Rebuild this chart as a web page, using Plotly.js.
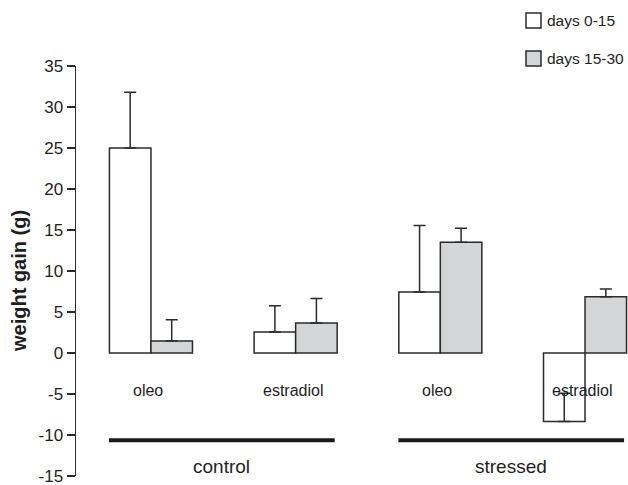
<!DOCTYPE html>
<html>
<head>
<meta charset="utf-8">
<script src="https://cdn.plot.ly/plotly-3.0.1.min.js"></script>
<style>
  html, body { margin: 0; padding: 0; background: #ffffff; }
  #chart { width: 628px; height: 485px; }
</style>
</head>
<body>
<div id="chart"></div>
<script>
// ---- data ----
const categories = ["control|oleo", "control|estradiol", "stressed|oleo", "stressed|estradiol"];
const treatmentLabels = ["oleo", "estradiol", "oleo", "estradiol"];
const groupLabels = ["control", "stressed"];
const groupFirst = [0, 2];   // index of first category in each group
const groupLast = [1, 3];    // index of last category in each group
const seriesNames = ["days 0-15", "days 15-30"];
const days0to15 = [25.0, 2.55, 7.45, -8.35];
const days0to15Err = [6.8, 3.2, 8.1, 3.45];
const days15to30 = [1.45, 3.65, 13.5, 6.85];
const days15to30Err = [2.6, 3.0, 1.7, 0.95];
const yTickVals = [-15, -10, -5, 0, 5, 10, 15, 20, 25, 30, 35];
const yTickText = ["-15", "-10", "-5", "0", "5", "10", "15", "20", "25", "30", "35"];
const yTitle = "weight gain (g)";

// ---- style ----
const FONT = "Liberation Sans, Arial, Helvetica, sans-serif";
const INK = "#2b2b2b";
const TEXT = "#1e1e1e";
const FILLS = ["#ffffff", "#d4d5d7"];
const W = 628, H = 485, ML = 76, MR = 0, MT = 66, MB = 9;
const PW = W - ML - MR, PH = H - MT - MB;
const px2x = (px) => (px - ML) / PW;
const py2y = (py) => (H - MB - py) / PH;

function barTrace(name, vals, errs, fill) {
  return {
    type: "bar",
    name: name,
    x: categories,
    y: vals,
    marker: { color: fill, line: { color: INK, width: 1.5 } },
    error_y: {
      type: "data",
      symmetric: false,
      array: errs,
      arrayminus: errs.map(() => 0),
      color: INK,
      thickness: 1.5,
      width: 6
    },
    hoverinfo: "skip",
    showlegend: false
  };
}

const data = [
  barTrace(seriesNames[0], days0to15, days0to15Err, FILLS[0]),
  barTrace(seriesNames[1], days15to30, days15to30Err, FILLS[1])
];

const annotations = [];
const shapes = [];
treatmentLabels.forEach((t, i) => {
  annotations.push({
    x: categories[i], y: -4.57, xref: "x", yref: "y",
    text: t, showarrow: false, xshift: -3,
    font: { family: FONT, size: 16, color: TEXT },
    xanchor: "center", yanchor: "middle"
  });
});
groupLabels.forEach((g, k) => {
  const mid = (groupFirst[k] + groupLast[k]) / 2;
  annotations.push({
    x: mid, y: -13.85, xref: "x", yref: "y",
    text: g, showarrow: false, xshift: -2,
    font: { family: FONT, size: 19, color: TEXT },
    xanchor: "center", yanchor: "middle"
  });
  shapes.push({
    type: "line", xref: "x", yref: "y",
    x0: groupFirst[k] - 0.29, x1: groupLast[k] + 0.27,
    y0: -10.63, y1: -10.63,
    line: { color: "#1a1a1a", width: 4 }
  });
});

// y-axis title
annotations.push({
  x: px2x(19), y: py2y(281), xref: "paper", yref: "paper",
  text: "<b>" + yTitle + "</b>", textangle: -90, showarrow: false,
  font: { family: FONT, size: 20, color: TEXT },
  xanchor: "center", yanchor: "middle"
});

// legend (drawn in the chart's top-right corner)
seriesNames.forEach((name, k) => {
  const top = 13 + k * 38;
  shapes.push({
    type: "rect", xref: "paper", yref: "paper",
    x0: px2x(526), x1: px2x(541), y0: py2y(top), y1: py2y(top + 15),
    fillcolor: FILLS[k], line: { color: INK, width: 1.5 }
  });
  annotations.push({
    x: px2x(546), y: py2y(top + 7.5), xref: "paper", yref: "paper",
    text: name, showarrow: false, borderpad: 0,
    font: { family: FONT, size: 15.5, color: TEXT },
    xanchor: "left", yanchor: "middle"
  });
});

const layout = {
  width: W, height: H,
  margin: { l: ML, r: MR, t: MT, b: MB, pad: 0 },
  paper_bgcolor: "#ffffff", plot_bgcolor: "#ffffff",
  font: { family: FONT, size: 16, color: TEXT },
  barmode: "group",
  bargap: 0.426,
  bargroupgap: 0,
  showlegend: false,
  xaxis: {
    type: "category",
    range: [-0.518, 3.297],
    showline: false, showgrid: false, zeroline: false,
    showticklabels: false, ticks: ""
  },
  yaxis: {
    range: [-15, 35],
    tickmode: "array", tickvals: yTickVals, ticktext: yTickText,
    showline: true, linecolor: INK, linewidth: 1.5,
    ticks: "outside", ticklen: 8, tickwidth: 1.5, tickcolor: INK,
    ticklabeloverflow: "allow",
    showgrid: false, zeroline: false,
    tickfont: { family: FONT, size: 17, color: TEXT }
  },
  annotations: annotations,
  shapes: shapes
};

Plotly.newPlot("chart", data, layout, { staticPlot: true, displayModeBar: false });
</script>
</body>
</html>
